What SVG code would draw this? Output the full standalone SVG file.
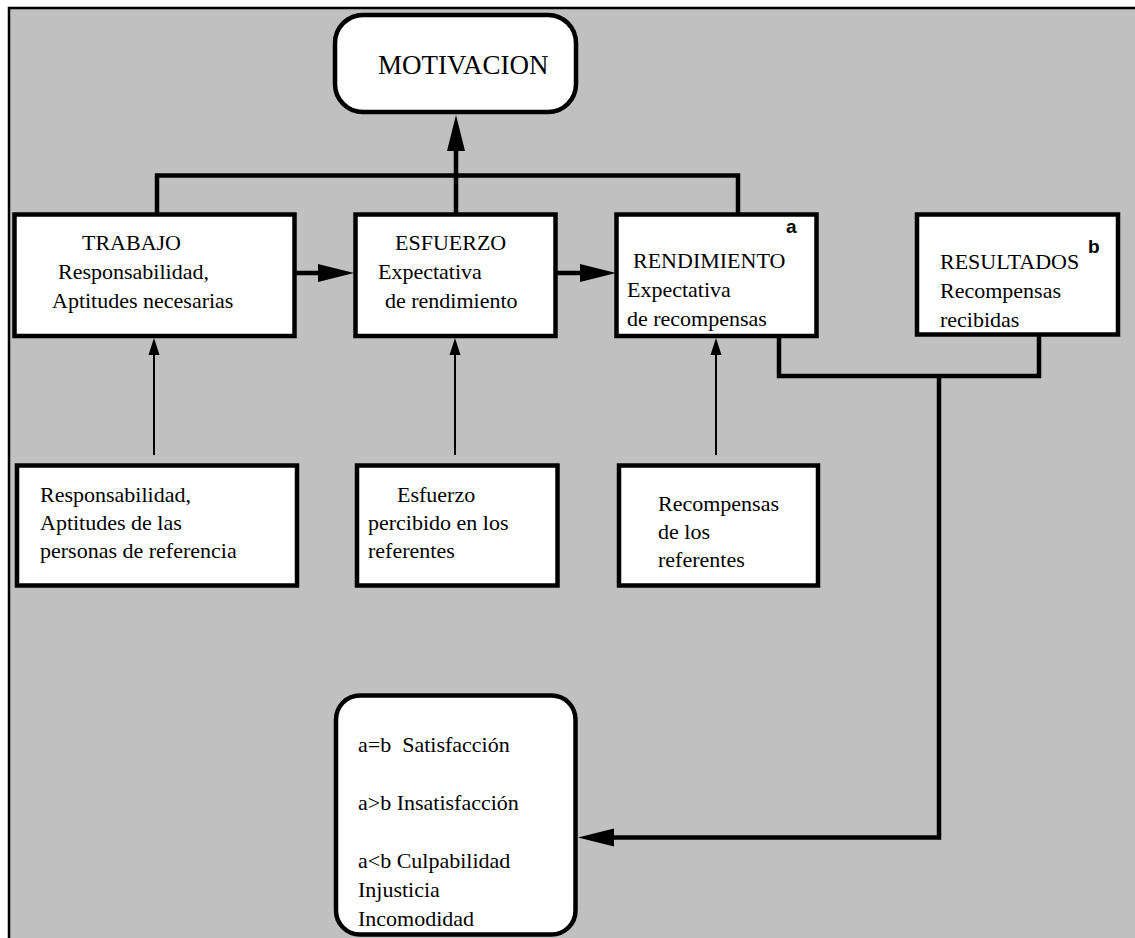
<svg xmlns="http://www.w3.org/2000/svg" width="1135" height="938" viewBox="0 0 1135 938">
  <style>
    .frame { fill: #c0c0c0; stroke: #000; stroke-width: 2.5; }
    .box { fill: #fff; stroke: #000; stroke-width: 4.5; }
    .t { font-family: "Liberation Serif", "Times New Roman", serif; font-size: 22px; fill: #000; white-space: pre; }
    .title { font-size: 27px; }
    .tag { font-family: "Liberation Sans", Arial, sans-serif; font-size: 19px; font-weight: bold; fill: #000; }
    .wire { fill: none; stroke: #000; stroke-width: 4.5; }
    .thin { fill: none; stroke: #000; stroke-width: 2; }
  </style>
  <defs>
    <marker id="bigArrow" markerUnits="userSpaceOnUse" markerWidth="36" markerHeight="18" refX="0" refY="9" orient="auto" overflow="visible">
      <path d="M0,0 L36,9 L0,18 Z" fill="#000"/>
    </marker>
    <marker id="smallArrow" markerUnits="userSpaceOnUse" markerWidth="17" markerHeight="11" refX="0" refY="5.5" orient="auto" overflow="visible">
      <path d="M0,0 L17,5.5 L0,11 Z" fill="#000"/>
    </marker>
  </defs>

  <!-- page background and frame -->
  <rect x="0" y="0" width="1135" height="938" fill="#fff"/>
  <rect class="frame" x="9" y="8" width="1200" height="1000"/>

  <!-- connectors -->
  <g id="connectors">
    <!-- top boxes feed MOTIVACION -->
    <path class="wire" d="M157,214 V175.5 H738 V214"/>
    <line class="wire" x1="456" y1="214" x2="456" y2="151" marker-end="url(#bigArrow)"/>
    <!-- chain along the top row -->
    <line class="wire" x1="294" y1="273" x2="318" y2="273" marker-end="url(#bigArrow)"/>
    <line class="wire" x1="556" y1="273" x2="580" y2="273" marker-end="url(#bigArrow)"/>
    <!-- referents push up into the top row -->
    <line class="thin" x1="154" y1="455" x2="154" y2="355" marker-end="url(#smallArrow)"/>
    <line class="thin" x1="455" y1="455" x2="455" y2="355" marker-end="url(#smallArrow)"/>
    <line class="thin" x1="716" y1="455" x2="716" y2="355" marker-end="url(#smallArrow)"/>
    <!-- a / b comparison towards the outcome box -->
    <path class="wire" d="M779,336 V376 H1039 V336"/>
    <path class="wire" d="M939,376 V837.5 H614" marker-end="url(#bigArrow)"/>
  </g>

  <g id="motivacion">
    <rect class="box" x="335" y="15" width="241" height="97" rx="28" ry="28"/>
    <text class="t title" x="378" y="74">MOTIVACION</text>
  </g>

  <g id="trabajo">
    <rect class="box" x="14.5" y="214.5" width="280" height="121.5"/>
    <text class="t" x="82" y="250">TRABAJO</text>
    <text class="t" x="58" y="279">Responsabilidad,</text>
    <text class="t" x="52" y="308">Aptitudes necesarias</text>
  </g>

  <g id="esfuerzo">
    <rect class="box" x="355.5" y="214.5" width="200" height="121.5"/>
    <text class="t" x="395" y="250">ESFUERZO</text>
    <text class="t" x="378" y="279">Expectativa</text>
    <text class="t" x="385" y="308">de rendimiento</text>
  </g>

  <g id="rendimiento">
    <rect class="box" x="616.5" y="214.5" width="200" height="121.5"/>
    <text class="tag" x="786" y="233">a</text>
    <text class="t" x="633" y="268">RENDIMIENTO</text>
    <text class="t" x="627" y="297">Expectativa</text>
    <text class="t" x="627" y="326">de recompensas</text>
  </g>

  <g id="resultados">
    <rect class="box" x="917" y="214.5" width="201" height="120"/>
    <text class="t" x="940" y="269">RESULTADOS</text>
    <text class="tag" x="1088" y="253">b</text>
    <text class="t" x="940" y="298">Recompensas</text>
    <text class="t" x="940" y="327">recibidas</text>
  </g>

  <g id="ref-aptitudes">
    <rect class="box" x="17" y="465.5" width="280" height="120"/>
    <text class="t" x="40" y="502">Responsabilidad,</text>
    <text class="t" x="40" y="530">Aptitudes de las</text>
    <text class="t" x="40" y="558">personas de referencia</text>
  </g>

  <g id="ref-esfuerzo">
    <rect class="box" x="357" y="465.5" width="200.5" height="120"/>
    <text class="t" x="397" y="502">Esfuerzo</text>
    <text class="t" x="368" y="530">percibido en los</text>
    <text class="t" x="368" y="558">referentes</text>
  </g>

  <g id="ref-recompensas">
    <rect class="box" x="619" y="465.5" width="199" height="120"/>
    <text class="t" x="658" y="511">Recompensas</text>
    <text class="t" x="658" y="539">de los</text>
    <text class="t" x="658" y="567">referentes</text>
  </g>

  <g id="resultado-comparacion">
    <rect class="box" x="336" y="695.5" width="239.5" height="239" rx="24" ry="24"/>
    <text class="t" x="358" y="752">a=b  Satisfacción</text>
    <text class="t" x="358" y="810">a&gt;b Insatisfacción</text>
    <text class="t" x="358" y="868">a&lt;b Culpabilidad</text>
    <text class="t" x="358" y="897">Injusticia</text>
    <text class="t" x="358" y="926">Incomodidad</text>
  </g>
</svg>
